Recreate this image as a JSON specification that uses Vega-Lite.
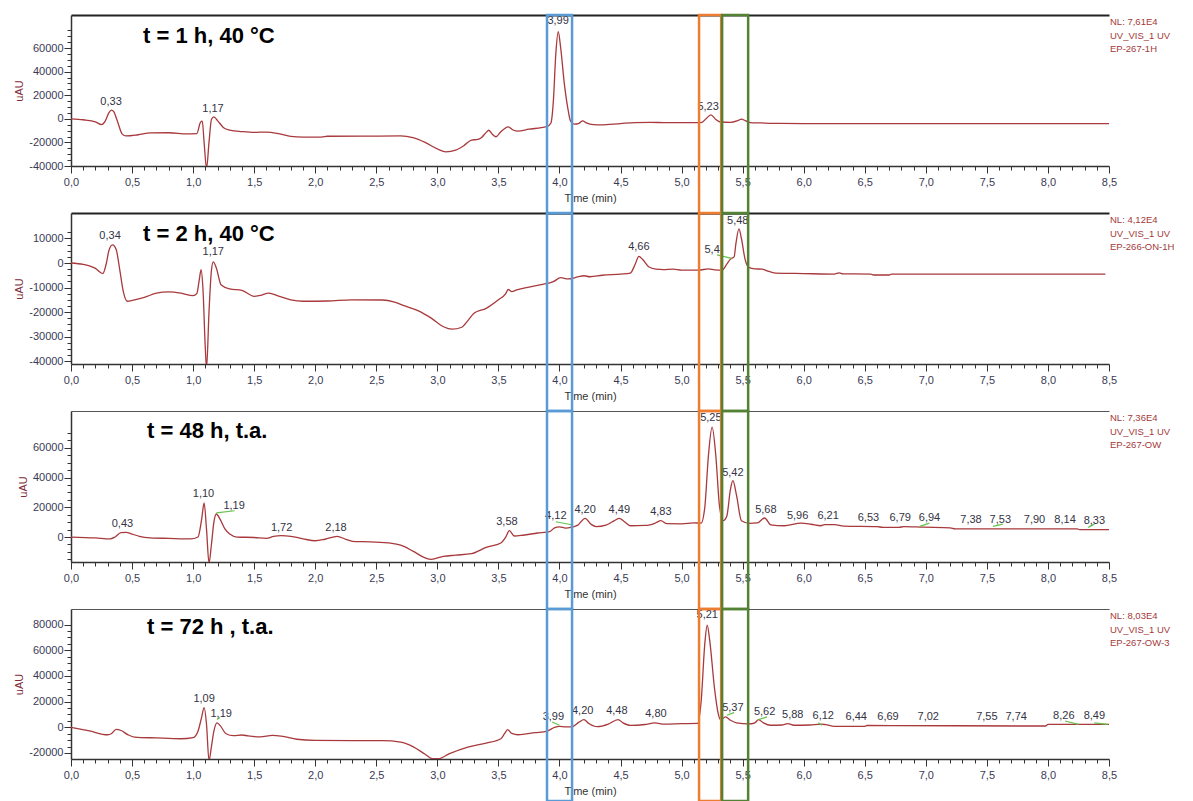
{
"$schema": "https://vega.github.io/schema/vega-lite/v6.json",
"background": "white",
"padding": {"left": 13, "top": 13, "right": 5, "bottom": 0},
"config": {
  "font": "Liberation Sans",
  "view": {"stroke": null},
  "axis": {"labelFont": "Liberation Sans", "labelFontSize": 11, "labelColor": "#3a3a55", "titleFont": "Liberation Sans", "titleFontSize": 11, "titleFontWeight": "normal", "titleColor": "#333333", "domainColor": "#333333", "tickColor": "#333333", "grid": false, "labelOverlap": false, "labelFlush": false},
  "title": {"font": "Liberation Sans", "fontSize": 22, "fontWeight": "bold", "color": "#000000", "anchor": "start", "frame": "group", "baseline": "middle"},
  "text": {"font": "Liberation Sans"}
},
"datasets": {
  "boxes": [{"x0": 3.898, "x1": 4.103, "c": "blue"}, {"x0": 5.143, "x1": 5.324, "c": "orange"}, {"x0": 5.332, "x1": 5.545, "c": "green"}],
  "c1": [{"t":0,"v":0},{"t":0.1,"v":-800},{"t":0.2,"v":-2500},{"t":0.25,"v":-5000},{"t":0.28,"v":-2000},{"t":0.31,"v":5000},{"t":0.33,"v":7400},{"t":0.35,"v":6000},{"t":0.38,"v":-2000},{"t":0.42,"v":-13000},{"t":0.45,"v":-14500},{"t":0.55,"v":-13500},{"t":0.65,"v":-12000},{"t":0.8,"v":-11800},{"t":0.95,"v":-12800},{"t":1.03,"v":-12500},{"t":1.06,"v":-3000},{"t":1.075,"v":-2000},{"t":1.09,"v":-20000},{"t":1.11,"v":-42000},{"t":1.13,"v":-20000},{"t":1.15,"v":-500},{"t":1.17,"v":1700},{"t":1.2,"v":-1500},{"t":1.25,"v":-7500},{"t":1.3,"v":-9500},{"t":1.4,"v":-10800},{"t":1.5,"v":-11500},{"t":1.6,"v":-11200},{"t":1.7,"v":-12500},{"t":1.8,"v":-14800},{"t":1.9,"v":-15500},{"t":2.05,"v":-15500},{"t":2.1,"v":-14800},{"t":2.4,"v":-14700},{"t":2.7,"v":-14500},{"t":2.8,"v":-16000},{"t":2.9,"v":-20000},{"t":3.0,"v":-25500},{"t":3.07,"v":-28000},{"t":3.15,"v":-26500},{"t":3.22,"v":-22500},{"t":3.28,"v":-18000},{"t":3.33,"v":-17500},{"t":3.36,"v":-16000},{"t":3.4,"v":-11500},{"t":3.42,"v":-9700},{"t":3.45,"v":-13000},{"t":3.48,"v":-15200},{"t":3.52,"v":-11000},{"t":3.58,"v":-6800},{"t":3.62,"v":-9500},{"t":3.66,"v":-10500},{"t":3.75,"v":-8800},{"t":3.85,"v":-7500},{"t":3.9,"v":-6500},{"t":3.93,"v":-3500},{"t":3.95,"v":15000},{"t":3.97,"v":55000},{"t":3.99,"v":73800},{"t":4.01,"v":60000},{"t":4.04,"v":29600},{"t":4.07,"v":8000},{"t":4.09,"v":-1700},{"t":4.12,"v":-4500},{"t":4.16,"v":-3800},{"t":4.19,"v":-1700},{"t":4.22,"v":-3500},{"t":4.28,"v":-5000},{"t":4.34,"v":-5200},{"t":4.5,"v":-4000},{"t":4.62,"v":-3200},{"t":4.75,"v":-3000},{"t":4.85,"v":-3200},{"t":5.0,"v":-3300},{"t":5.16,"v":-3300},{"t":5.2,"v":0},{"t":5.24,"v":3400},{"t":5.28,"v":-500},{"t":5.31,"v":-2500},{"t":5.4,"v":-3000},{"t":5.46,"v":-1500},{"t":5.49,"v":-300},{"t":5.52,"v":-1500},{"t":5.56,"v":-3200},{"t":5.65,"v":-3500},{"t":5.8,"v":-3900},{"t":6.0,"v":-4000},{"t":8.5,"v":-4000}],
  "c2": [{"t":0,"v":0},{"t":0.1,"v":-600},{"t":0.2,"v":-2200},{"t":0.26,"v":-4300},{"t":0.29,"v":0},{"t":0.31,"v":5000},{"t":0.34,"v":7400},{"t":0.37,"v":5500},{"t":0.4,"v":-3000},{"t":0.43,"v":-12000},{"t":0.46,"v":-15600},{"t":0.52,"v":-15000},{"t":0.6,"v":-14000},{"t":0.7,"v":-12300},{"t":0.8,"v":-11800},{"t":0.9,"v":-12300},{"t":1.0,"v":-13300},{"t":1.03,"v":-12500},{"t":1.05,"v":-7000},{"t":1.065,"v":-2700},{"t":1.08,"v":-10000},{"t":1.1,"v":-35000},{"t":1.11,"v":-43000},{"t":1.13,"v":-20000},{"t":1.15,"v":-3000},{"t":1.165,"v":500},{"t":1.19,"v":-2000},{"t":1.23,"v":-9000},{"t":1.3,"v":-10600},{"t":1.4,"v":-11200},{"t":1.5,"v":-13600},{"t":1.55,"v":-13200},{"t":1.62,"v":-12300},{"t":1.7,"v":-13500},{"t":1.8,"v":-15000},{"t":1.9,"v":-15600},{"t":2.1,"v":-15500},{"t":2.3,"v":-15000},{"t":2.55,"v":-15100},{"t":2.65,"v":-16000},{"t":2.72,"v":-17300},{"t":2.85,"v":-19600},{"t":2.95,"v":-22500},{"t":3.05,"v":-26000},{"t":3.12,"v":-27000},{"t":3.2,"v":-26200},{"t":3.25,"v":-23500},{"t":3.3,"v":-20500},{"t":3.4,"v":-18500},{"t":3.5,"v":-15000},{"t":3.56,"v":-12500},{"t":3.58,"v":-10800},{"t":3.61,"v":-11700},{"t":3.65,"v":-11000},{"t":3.75,"v":-9800},{"t":3.85,"v":-8800},{"t":3.95,"v":-7600},{"t":4.01,"v":-6000},{"t":4.07,"v":-6500},{"t":4.15,"v":-5700},{"t":4.2,"v":-5200},{"t":4.25,"v":-5600},{"t":4.35,"v":-5000},{"t":4.5,"v":-4500},{"t":4.58,"v":-4100},{"t":4.62,"v":-500},{"t":4.65,"v":2700},{"t":4.68,"v":1500},{"t":4.73,"v":-1500},{"t":4.79,"v":-2500},{"t":4.85,"v":-2700},{"t":4.93,"v":-2500},{"t":5.0,"v":-2900},{"t":5.14,"v":-2900},{"t":5.22,"v":-2400},{"t":5.27,"v":-2800},{"t":5.33,"v":-3000},{"t":5.37,"v":-500},{"t":5.4,"v":1600},{"t":5.43,"v":2500},{"t":5.445,"v":8000},{"t":5.47,"v":13900},{"t":5.49,"v":10000},{"t":5.52,"v":1500},{"t":5.55,"v":-1800},{"t":5.6,"v":-2400},{"t":5.66,"v":-2500},{"t":5.7,"v":-3200},{"t":5.77,"v":-4100},{"t":6.0,"v":-4300},{"t":6.25,"v":-4500},{"t":6.29,"v":-4000},{"t":6.32,"v":-4400},{"t":6.55,"v":-4500},{"t":6.57,"v":-4900},{"t":6.7,"v":-4900},{"t":6.72,"v":-4500},{"t":8.47,"v":-4500}],
  "c3": [{"t":0,"v":0},{"t":0.2,"v":-600},{"t":0.32,"v":-1300},{"t":0.36,"v":0},{"t":0.41,"v":3000},{"t":0.45,"v":3100},{"t":0.5,"v":2000},{"t":0.56,"v":500},{"t":0.65,"v":-500},{"t":0.8,"v":-900},{"t":0.98,"v":-1300},{"t":1.04,"v":0},{"t":1.07,"v":12000},{"t":1.09,"v":22900},{"t":1.11,"v":5000},{"t":1.13,"v":-17500},{"t":1.15,"v":-5000},{"t":1.17,"v":10000},{"t":1.19,"v":15500},{"t":1.22,"v":12000},{"t":1.26,"v":5500},{"t":1.3,"v":2000},{"t":1.36,"v":0},{"t":1.5,"v":-300},{"t":1.6,"v":-900},{"t":1.66,"v":500},{"t":1.72,"v":900},{"t":1.8,"v":500},{"t":1.9,"v":-1200},{"t":2.0,"v":-2500},{"t":2.08,"v":-1500},{"t":2.18,"v":400},{"t":2.25,"v":-1500},{"t":2.33,"v":-3100},{"t":2.45,"v":-3200},{"t":2.6,"v":-4000},{"t":2.7,"v":-5500},{"t":2.8,"v":-9500},{"t":2.9,"v":-14000},{"t":2.95,"v":-15000},{"t":3.05,"v":-13000},{"t":3.15,"v":-12200},{"t":3.28,"v":-11200},{"t":3.4,"v":-7000},{"t":3.52,"v":-4000},{"t":3.56,"v":0},{"t":3.59,"v":4300},{"t":3.63,"v":700},{"t":3.7,"v":1200},{"t":3.82,"v":2700},{"t":3.92,"v":3700},{"t":3.96,"v":6200},{"t":4.0,"v":6900},{"t":4.05,"v":6000},{"t":4.1,"v":6600},{"t":4.15,"v":8000},{"t":4.21,"v":12600},{"t":4.26,"v":8500},{"t":4.3,"v":7000},{"t":4.38,"v":8000},{"t":4.45,"v":11000},{"t":4.49,"v":12500},{"t":4.53,"v":10500},{"t":4.58,"v":7600},{"t":4.7,"v":7800},{"t":4.74,"v":8200},{"t":4.79,"v":9600},{"t":4.83,"v":11000},{"t":4.88,"v":9000},{"t":5.0,"v":8900},{"t":5.1,"v":9500},{"t":5.16,"v":9400},{"t":5.19,"v":20000},{"t":5.22,"v":55000},{"t":5.25,"v":73900},{"t":5.28,"v":55000},{"t":5.31,"v":21100},{"t":5.34,"v":11000},{"t":5.37,"v":14000},{"t":5.4,"v":32000},{"t":5.42,"v":37900},{"t":5.45,"v":28000},{"t":5.49,"v":11000},{"t":5.56,"v":9200},{"t":5.62,"v":9500},{"t":5.68,"v":12800},{"t":5.73,"v":8200},{"t":5.84,"v":7600},{"t":5.98,"v":9300},{"t":6.06,"v":8600},{"t":6.14,"v":7600},{"t":6.17,"v":8300},{"t":6.25,"v":8400},{"t":6.33,"v":7300},{"t":6.6,"v":7000},{"t":6.65,"v":6500},{"t":6.78,"v":6500},{"t":6.82,"v":7000},{"t":6.98,"v":6600},{"t":7.2,"v":6200},{"t":7.24,"v":5500},{"t":8.24,"v":5500},{"t":8.26,"v":5000},{"t":8.5,"v":5000}],
  "c4": [{"t":0,"v":0},{"t":0.15,"v":-2800},{"t":0.3,"v":-5800},{"t":0.33,"v":-5000},{"t":0.37,"v":-1600},{"t":0.41,"v":-2500},{"t":0.47,"v":-6000},{"t":0.52,"v":-7600},{"t":0.7,"v":-8300},{"t":0.9,"v":-8900},{"t":1.0,"v":-8000},{"t":1.04,"v":-3000},{"t":1.07,"v":8000},{"t":1.09,"v":15400},{"t":1.11,"v":2000},{"t":1.13,"v":-26000},{"t":1.15,"v":-15000},{"t":1.17,"v":-3000},{"t":1.195,"v":3400},{"t":1.22,"v":1500},{"t":1.27,"v":-5000},{"t":1.33,"v":-6500},{"t":1.4,"v":-6000},{"t":1.45,"v":-6700},{"t":1.55,"v":-7500},{"t":1.65,"v":-6300},{"t":1.72,"v":-6800},{"t":1.85,"v":-9300},{"t":2.0,"v":-10200},{"t":2.3,"v":-10400},{"t":2.55,"v":-10400},{"t":2.7,"v":-11500},{"t":2.8,"v":-15000},{"t":2.9,"v":-21000},{"t":2.96,"v":-24500},{"t":3.01,"v":-24500},{"t":3.1,"v":-20500},{"t":3.25,"v":-15400},{"t":3.4,"v":-12300},{"t":3.52,"v":-8900},{"t":3.55,"v":-5000},{"t":3.575,"v":-1800},{"t":3.61,"v":-4800},{"t":3.66,"v":-5800},{"t":3.8,"v":-4200},{"t":3.9,"v":-2900},{"t":3.96,"v":0},{"t":4.0,"v":800},{"t":4.05,"v":300},{"t":4.1,"v":400},{"t":4.16,"v":4000},{"t":4.2,"v":6000},{"t":4.24,"v":3000},{"t":4.31,"v":500},{"t":4.4,"v":2500},{"t":4.48,"v":6000},{"t":4.52,"v":3500},{"t":4.58,"v":1500},{"t":4.7,"v":2200},{"t":4.78,"v":3400},{"t":4.86,"v":2500},{"t":5.0,"v":2800},{"t":5.13,"v":3000},{"t":5.16,"v":20000},{"t":5.19,"v":65000},{"t":5.21,"v":79700},{"t":5.23,"v":68000},{"t":5.27,"v":30000},{"t":5.3,"v":10700},{"t":5.32,"v":5800},{"t":5.36,"v":8100},{"t":5.4,"v":5500},{"t":5.45,"v":3400},{"t":5.55,"v":2600},{"t":5.6,"v":3500},{"t":5.63,"v":6000},{"t":5.67,"v":3500},{"t":5.73,"v":1600},{"t":5.82,"v":1800},{"t":5.87,"v":2900},{"t":5.92,"v":1600},{"t":6.05,"v":1800},{"t":6.14,"v":2500},{"t":6.18,"v":2100},{"t":6.25,"v":800},{"t":6.5,"v":800},{"t":6.52,"v":1400},{"t":7.98,"v":1000},{"t":8.0,"v":2300},{"t":8.5,"v":2300}],
  "l1": [{"t":0.328,"v":14500,"label":"0,33"},{"t":1.163,"v":8500,"label":"1,17"},{"t":3.989,"v":82900,"label":"3,99"},{"t":5.217,"v":10300,"label":"5,23"}],
  "l2": [{"t":0.32,"v":11000,"label":"0,34"},{"t":1.165,"v":4500,"label":"1,17"},{"t":4.65,"v":6500,"label":"4,66"},{"t":5.25,"v":5300,"label":"5,4"},{"t":5.46,"v":17100,"label":"5,48"}],
  "l3": [{"t":0.421,"v":8800,"label":"0,43"},{"t":1.085,"v":29000,"label":"1,10"},{"t":1.336,"v":20900,"label":"1,19"},{"t":1.725,"v":6100,"label":"1,72"},{"t":2.17,"v":6100,"label":"2,18"},{"t":3.57,"v":10100,"label":"3,58"},{"t":3.97,"v":14100,"label":"4,12"},{"t":4.21,"v":18200,"label":"4,20"},{"t":4.49,"v":18200,"label":"4,49"},{"t":4.83,"v":16800,"label":"4,83"},{"t":5.24,"v":80100,"label":"5,25"},{"t":5.42,"v":43100,"label":"5,42"},{"t":5.69,"v":18200,"label":"5,68"},{"t":5.95,"v":14100,"label":"5,96"},{"t":6.2,"v":14100,"label":"6,21"},{"t":6.53,"v":12800,"label":"6,53"},{"t":6.79,"v":12800,"label":"6,79"},{"t":7.03,"v":12800,"label":"6,94"},{"t":7.37,"v":11400,"label":"7,38"},{"t":7.61,"v":11400,"label":"7,53"},{"t":7.89,"v":11400,"label":"7,90"},{"t":8.14,"v":11400,"label":"8,14"},{"t":8.38,"v":10800,"label":"8,33"}],
  "l4": [{"t":1.09,"v":21900,"label":"1,09"},{"t":1.23,"v":10200,"label":"1,19"},{"t":3.95,"v":7800,"label":"3,99"},{"t":4.19,"v":12500,"label":"4,20"},{"t":4.47,"v":12500,"label":"4,48"},{"t":4.79,"v":10200,"label":"4,80"},{"t":5.21,"v":87500,"label":"5,21"},{"t":5.42,"v":14800,"label":"5,37"},{"t":5.68,"v":11700,"label":"5,62"},{"t":5.91,"v":9400,"label":"5,88"},{"t":6.16,"v":8600,"label":"6,12"},{"t":6.43,"v":7800,"label":"6,44"},{"t":6.69,"v":7800,"label":"6,69"},{"t":7.02,"v":7800,"label":"7,02"},{"t":7.5,"v":7800,"label":"7,55"},{"t":7.74,"v":7800,"label":"7,74"},{"t":8.13,"v":8600,"label":"8,26"},{"t":8.38,"v":8600,"label":"8,49"}],
  "g2": [{"t0":5.29,"v0":3300,"t1":5.41,"v1":1900}],
  "g3": [{"t0":1.19,"v0":16200,"t1":1.34,"v1":17700},{"t0":3.97,"v0":10300,"t1":4.11,"v1":8100},{"t0":6.95,"v0":7200,"t1":7.03,"v1":9400},{"t0":7.55,"v0":7200,"t1":7.63,"v1":8700},{"t0":8.33,"v0":6500,"t1":8.38,"v1":8700}],
  "g4": [{"t0":1.195,"v0":6000,"t1":1.22,"v1":7600},{"t0":3.94,"v0":4100,"t1":4.0,"v1":1600},{"t0":5.37,"v0":9400,"t1":5.43,"v1":11400},{"t0":5.63,"v0":6000,"t1":5.7,"v1":8100},{"t0":6.12,"v0":3600,"t1":6.15,"v1":1600},{"t0":8.14,"v0":4900,"t1":8.25,"v1":2300},{"t0":8.38,"v0":3400,"t1":8.49,"v1":2300}]
},
"vconcat": [
 {
  "width": 1038, "height": 151,
  "title": {"text": "t = 1 h, 40 °C", "dx": 72, "offset": -34},
  "resolve": {"axis": {"x": "independent", "y": "independent"}},
  "layer": [
   {"data": {"name": "c1"}, "mark": {"type": "line", "color": "#a8393c", "strokeWidth": 1.3, "clip": true, "interpolate": "monotone"},
    "encoding": {
     "x": {"field": "t", "type": "quantitative", "scale": {"domain": [0, 8.5], "nice": false, "zero": false},
       "axis": {"orient": "bottom", "values": [0,0.1,0.2,0.3,0.4,0.5,0.6,0.7,0.8,0.9,1,1.1,1.2,1.3,1.4,1.5,1.6,1.7,1.8,1.9,2,2.1,2.2,2.3,2.4,2.5,2.6,2.7,2.8,2.9,3,3.1,3.2,3.3,3.4,3.5,3.6,3.7,3.8,3.9,4,4.1,4.2,4.3,4.4,4.5,4.6,4.7,4.8,4.9,5,5.1,5.2,5.3,5.4,5.5,5.6,5.7,5.8,5.9,6,6.1,6.2,6.3,6.4,6.5,6.6,6.7,6.8,6.9,7,7.1,7.2,7.3,7.4,7.5,7.6,7.7,7.8,7.9,8,8.1,8.2,8.3,8.4,8.5],
         "labelExpr": "abs(datum.value*2-round(datum.value*2))<0.01 ? replace(format(datum.value,'.1f'),'.',',') : ''",
         "tickSize": {"condition": {"test": "abs(datum.value*2-round(datum.value*2))<0.01", "value": 7}, "value": 4},
         "title": "Time (min)", "titlePadding": 5, "labelPadding": 3, "domainWidth": 1.5}},
     "y": {"field": "v", "type": "quantitative", "scale": {"domain": [-40000, 88000], "nice": false, "zero": false},
       "axis": {"orient": "left", "values": [-40000,-35000,-30000,-25000,-20000,-15000,-10000,-5000,0,5000,10000,15000,20000,25000,30000,35000,40000,45000,50000,55000,60000,65000,70000,75000],
         "labelExpr": "datum.value % 20000 === 0 ? datum.value + '' : ''",
         "tickSize": {"condition": {"test": "datum.value % 20000 === 0", "value": 7}, "value": 4},
         "title": "uAU", "titleColor": "#7d2b36", "titlePadding": 4, "labelPadding": 1, "domainWidth": 1.5}}
    }},
   {"data": {"name": "l1"}, "mark": {"type": "text", "fontSize": 11, "color": "#333344", "baseline": "middle"},
    "encoding": {
     "x": {"field": "t", "type": "quantitative", "axis": {"orient": "top", "labels": false, "ticks": false, "title": null, "domainColor": "#222222", "domainWidth": 2}},
     "y": {"field": "v", "type": "quantitative", "axis": null},
     "text": {"field": "label"}}},
   {"data": {"values": [{}]}, "mark": {"type": "text", "align": "left", "baseline": "top", "dx": 1, "dy": 2, "fontSize": 9.5, "color": "#a33a3a", "lineHeight": 13.5},
    "encoding": {
     "x": {"datum": 8.5, "type": "quantitative", "axis": null},
     "y": {"datum": 88000, "type": "quantitative", "axis": null},
     "text": {"value": ["NL: 7,61E4", "UV_VIS_1  UV", "EP-267-1H"]}}},
   {"data": {"name": "boxes"}, "mark": {"type": "rect", "filled": false, "strokeWidth": 2.5},
    "encoding": {
     "x": {"field": "x0", "type": "quantitative", "axis": null}, "x2": {"field": "x1"},
     "y": {"datum": 88000, "type": "quantitative", "axis": null}, "y2": {"datum": -80000},
     "color": {"field": "c", "type": "nominal", "scale": {"domain": ["blue", "orange", "green"], "range": ["#5b9bd5", "#ed7d31", "#548235"]}, "legend": null}}}
  ]
 },
 {
  "width": 1038, "height": 151,
  "title": {"text": "t = 2 h, 40 °C", "dx": 72, "offset": -34},
  "resolve": {"axis": {"x": "independent", "y": "independent"}},
  "layer": [
   {"data": {"name": "c2"}, "mark": {"type": "line", "color": "#a8393c", "strokeWidth": 1.3, "clip": true, "interpolate": "monotone"},
    "encoding": {
     "x": {"field": "t", "type": "quantitative", "scale": {"domain": [0, 8.5], "nice": false, "zero": false},
       "axis": {"orient": "bottom", "values": [0,0.1,0.2,0.3,0.4,0.5,0.6,0.7,0.8,0.9,1,1.1,1.2,1.3,1.4,1.5,1.6,1.7,1.8,1.9,2,2.1,2.2,2.3,2.4,2.5,2.6,2.7,2.8,2.9,3,3.1,3.2,3.3,3.4,3.5,3.6,3.7,3.8,3.9,4,4.1,4.2,4.3,4.4,4.5,4.6,4.7,4.8,4.9,5,5.1,5.2,5.3,5.4,5.5,5.6,5.7,5.8,5.9,6,6.1,6.2,6.3,6.4,6.5,6.6,6.7,6.8,6.9,7,7.1,7.2,7.3,7.4,7.5,7.6,7.7,7.8,7.9,8,8.1,8.2,8.3,8.4,8.5],
         "labelExpr": "abs(datum.value*2-round(datum.value*2))<0.01 ? replace(format(datum.value,'.1f'),'.',',') : ''",
         "tickSize": {"condition": {"test": "abs(datum.value*2-round(datum.value*2))<0.01", "value": 7}, "value": 4},
         "title": "Time (min)", "titlePadding": 5, "labelPadding": 3, "domainWidth": 1.5}},
     "y": {"field": "v", "type": "quantitative", "scale": {"domain": [-41200, 20400], "nice": false, "zero": false},
       "axis": {"orient": "left", "values": [-40000,-37500,-35000,-32500,-30000,-27500,-25000,-22500,-20000,-17500,-15000,-12500,-10000,-7500,-5000,-2500,0,2500,5000,7500,10000,12500],
         "labelExpr": "datum.value % 10000 === 0 ? datum.value + '' : ''",
         "tickSize": {"condition": {"test": "datum.value % 10000 === 0", "value": 7}, "value": 4},
         "title": "uAU", "titleColor": "#7d2b36", "titlePadding": 4, "labelPadding": 1, "domainWidth": 1.5}}
    }},
   {"data": {"name": "g2"}, "mark": {"type": "rule", "color": "#66c24a", "strokeWidth": 1.2},
    "encoding": {
     "x": {"field": "t0", "type": "quantitative", "axis": null}, "x2": {"field": "t1"},
     "y": {"field": "v0", "type": "quantitative", "axis": null}, "y2": {"field": "v1"}}},
   {"data": {"name": "l2"}, "mark": {"type": "text", "fontSize": 11, "color": "#333344", "baseline": "middle"},
    "encoding": {
     "x": {"field": "t", "type": "quantitative", "axis": {"orient": "top", "labels": false, "ticks": false, "title": null, "domainColor": "#222222", "domainWidth": 2}},
     "y": {"field": "v", "type": "quantitative", "axis": null},
     "text": {"field": "label"}}},
   {"data": {"values": [{}]}, "mark": {"type": "text", "align": "left", "baseline": "top", "dx": 1, "dy": 2, "fontSize": 9.5, "color": "#a33a3a", "lineHeight": 13.5},
    "encoding": {
     "x": {"datum": 8.5, "type": "quantitative", "axis": null},
     "y": {"datum": 20400, "type": "quantitative", "axis": null},
     "text": {"value": ["NL: 4,12E4", "UV_VIS_1  UV", "EP-266-ON-1H"]}}},
   {"data": {"name": "boxes"}, "mark": {"type": "rect", "filled": false, "strokeWidth": 2.5},
    "encoding": {
     "x": {"field": "x0", "type": "quantitative", "axis": null}, "x2": {"field": "x1"},
     "y": {"datum": 20400, "type": "quantitative", "axis": null}, "y2": {"datum": -60400},
     "color": {"field": "c", "type": "nominal", "scale": {"domain": ["blue", "orange", "green"], "range": ["#5b9bd5", "#ed7d31", "#548235"]}, "legend": null}}}
  ]
 },
 {
  "width": 1038, "height": 151,
  "title": {"text": "t = 48 h, t.a.", "dx": 76, "offset": -33},
  "resolve": {"axis": {"x": "independent", "y": "independent"}},
  "layer": [
   {"data": {"name": "c3"}, "mark": {"type": "line", "color": "#a8393c", "strokeWidth": 1.3, "clip": true, "interpolate": "monotone"},
    "encoding": {
     "x": {"field": "t", "type": "quantitative", "scale": {"domain": [0, 8.5], "nice": false, "zero": false},
       "axis": {"orient": "bottom", "values": [0,0.1,0.2,0.3,0.4,0.5,0.6,0.7,0.8,0.9,1,1.1,1.2,1.3,1.4,1.5,1.6,1.7,1.8,1.9,2,2.1,2.2,2.3,2.4,2.5,2.6,2.7,2.8,2.9,3,3.1,3.2,3.3,3.4,3.5,3.6,3.7,3.8,3.9,4,4.1,4.2,4.3,4.4,4.5,4.6,4.7,4.8,4.9,5,5.1,5.2,5.3,5.4,5.5,5.6,5.7,5.8,5.9,6,6.1,6.2,6.3,6.4,6.5,6.6,6.7,6.8,6.9,7,7.1,7.2,7.3,7.4,7.5,7.6,7.7,7.8,7.9,8,8.1,8.2,8.3,8.4,8.5],
         "labelExpr": "abs(datum.value*2-round(datum.value*2))<0.01 ? replace(format(datum.value,'.1f'),'.',',') : ''",
         "tickSize": {"condition": {"test": "abs(datum.value*2-round(datum.value*2))<0.01", "value": 7}, "value": 4},
         "title": "Time (min)", "titlePadding": 5, "labelPadding": 3, "domainWidth": 1.5}},
     "y": {"field": "v", "type": "quantitative", "scale": {"domain": [-16800, 84800], "nice": false, "zero": false},
       "axis": {"orient": "left", "values": [-15000,-10000,-5000,0,5000,10000,15000,20000,25000,30000,35000,40000,45000,50000,55000,60000,65000,70000],
         "labelExpr": "datum.value % 20000 === 0 ? datum.value + '' : ''",
         "tickSize": {"condition": {"test": "datum.value % 20000 === 0", "value": 7}, "value": 4},
         "title": "uAU", "titleColor": "#7d2b36", "titlePadding": 4, "labelPadding": 1, "domainWidth": 1.5}}
    }},
   {"data": {"name": "g3"}, "mark": {"type": "rule", "color": "#66c24a", "strokeWidth": 1.2},
    "encoding": {
     "x": {"field": "t0", "type": "quantitative", "axis": null}, "x2": {"field": "t1"},
     "y": {"field": "v0", "type": "quantitative", "axis": null}, "y2": {"field": "v1"}}},
   {"data": {"name": "l3"}, "mark": {"type": "text", "fontSize": 11, "color": "#333344", "baseline": "middle"},
    "encoding": {
     "x": {"field": "t", "type": "quantitative", "axis": {"orient": "top", "labels": false, "ticks": false, "title": null, "domainColor": "#555555", "domainWidth": 1.2}},
     "y": {"field": "v", "type": "quantitative", "axis": null},
     "text": {"field": "label"}}},
   {"data": {"values": [{}]}, "mark": {"type": "text", "align": "left", "baseline": "top", "dx": 1, "dy": 2, "fontSize": 9.5, "color": "#a33a3a", "lineHeight": 13.5},
    "encoding": {
     "x": {"datum": 8.5, "type": "quantitative", "axis": null},
     "y": {"datum": 84800, "type": "quantitative", "axis": null},
     "text": {"value": ["NL: 7,36E4", "UV_VIS_1  UV", "EP-267-OW"]}}},
   {"data": {"name": "boxes"}, "mark": {"type": "rect", "filled": false, "strokeWidth": 2.5},
    "encoding": {
     "x": {"field": "x0", "type": "quantitative", "axis": null}, "x2": {"field": "x1"},
     "y": {"datum": 84800, "type": "quantitative", "axis": null}, "y2": {"datum": -48400},
     "color": {"field": "c", "type": "nominal", "scale": {"domain": ["blue", "orange", "green"], "range": ["#5b9bd5", "#ed7d31", "#548235"]}, "legend": null}}}
  ]
 },
 {
  "width": 1038, "height": 150,
  "title": {"text": "t = 72 h , t.a.", "dx": 76, "offset": -31},
  "resolve": {"axis": {"x": "independent", "y": "independent"}},
  "layer": [
   {"data": {"name": "c4"}, "mark": {"type": "line", "color": "#a8393c", "strokeWidth": 1.3, "clip": true, "interpolate": "monotone"},
    "encoding": {
     "x": {"field": "t", "type": "quantitative", "scale": {"domain": [0, 8.5], "nice": false, "zero": false},
       "axis": {"orient": "bottom", "values": [0,0.1,0.2,0.3,0.4,0.5,0.6,0.7,0.8,0.9,1,1.1,1.2,1.3,1.4,1.5,1.6,1.7,1.8,1.9,2,2.1,2.2,2.3,2.4,2.5,2.6,2.7,2.8,2.9,3,3.1,3.2,3.3,3.4,3.5,3.6,3.7,3.8,3.9,4,4.1,4.2,4.3,4.4,4.5,4.6,4.7,4.8,4.9,5,5.1,5.2,5.3,5.4,5.5,5.6,5.7,5.8,5.9,6,6.1,6.2,6.3,6.4,6.5,6.6,6.7,6.8,6.9,7,7.1,7.2,7.3,7.4,7.5,7.6,7.7,7.8,7.9,8,8.1,8.2,8.3,8.4,8.5],
         "labelExpr": "abs(datum.value*2-round(datum.value*2))<0.01 ? replace(format(datum.value,'.1f'),'.',',') : ''",
         "tickSize": {"condition": {"test": "abs(datum.value*2-round(datum.value*2))<0.01", "value": 7}, "value": 4},
         "title": "Time (min)", "titlePadding": 5, "labelPadding": 3, "domainWidth": 1.5}},
     "y": {"field": "v", "type": "quantitative", "scale": {"domain": [-24700, 92200], "nice": false, "zero": false},
       "axis": {"orient": "left", "values": [-20000,-15000,-10000,-5000,0,5000,10000,15000,20000,25000,30000,35000,40000,45000,50000,55000,60000,65000,70000,75000,80000],
         "labelExpr": "datum.value % 20000 === 0 ? datum.value + '' : ''",
         "tickSize": {"condition": {"test": "datum.value % 20000 === 0", "value": 7}, "value": 4},
         "title": "uAU", "titleColor": "#7d2b36", "titlePadding": 4, "labelPadding": 1, "domainWidth": 1.5}}
    }},
   {"data": {"name": "g4"}, "mark": {"type": "rule", "color": "#66c24a", "strokeWidth": 1.2},
    "encoding": {
     "x": {"field": "t0", "type": "quantitative", "axis": null}, "x2": {"field": "t1"},
     "y": {"field": "v0", "type": "quantitative", "axis": null}, "y2": {"field": "v1"}}},
   {"data": {"name": "l4"}, "mark": {"type": "text", "fontSize": 11, "color": "#333344", "baseline": "middle"},
    "encoding": {
     "x": {"field": "t", "type": "quantitative", "axis": {"orient": "top", "labels": false, "ticks": false, "title": null, "domainColor": "#555555", "domainWidth": 1.2}},
     "y": {"field": "v", "type": "quantitative", "axis": null},
     "text": {"field": "label"}}},
   {"data": {"values": [{}]}, "mark": {"type": "text", "align": "left", "baseline": "top", "dx": 1, "dy": 2, "fontSize": 9.5, "color": "#a33a3a", "lineHeight": 13.5},
    "encoding": {
     "x": {"datum": 8.5, "type": "quantitative", "axis": null},
     "y": {"datum": 92200, "type": "quantitative", "axis": null},
     "text": {"value": ["NL: 8,03E4", "UV_VIS_1  UV", "EP-267-OW-3"]}}},
   {"data": {"name": "boxes"}, "mark": {"type": "rect", "filled": false, "strokeWidth": 2.5},
    "encoding": {
     "x": {"field": "x0", "type": "quantitative", "axis": null}, "x2": {"field": "x1"},
     "y": {"datum": 92200, "type": "quantitative", "axis": null}, "y2": {"datum": -57400},
     "color": {"field": "c", "type": "nominal", "scale": {"domain": ["blue", "orange", "green"], "range": ["#5b9bd5", "#ed7d31", "#548235"]}, "legend": null}}}
  ]
 }
],
"spacing": 47,
"bounds": "flush"
}
